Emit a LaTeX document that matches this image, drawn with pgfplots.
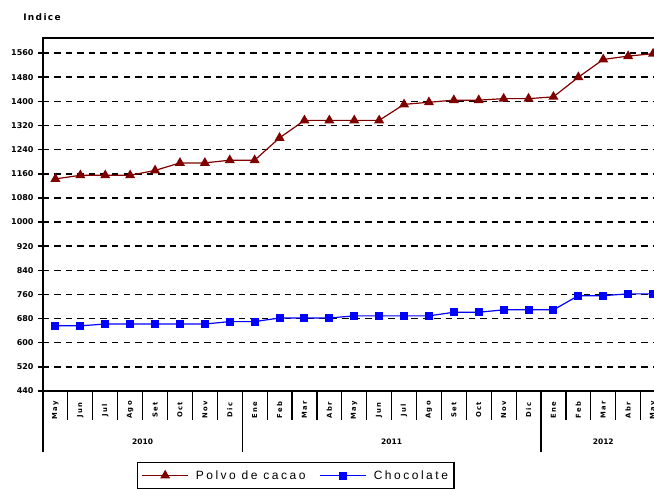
\documentclass[border=0pt]{standalone}
\usepackage{pgfplots}
\pgfplotsset{compat=1.18}
\usepackage{pgfplotstable}
\usepackage{fontspec}
\setmainfont{DejaVu Sans}
\newfontfamily\legfont{Liberation Sans}[LetterSpace=21]
\newfontfamily\monthfont{DejaVu Sans}[LetterSpace=20]
\newfontfamily\titfont{DejaVu Sans}[LetterSpace=15]

\definecolor{cacao}{RGB}{128,0,0}
\definecolor{choco}{RGB}{0,0,255}

% indices mensuales, may-2010 .. may-2012
\pgfplotstableread{
idx cacao choco
0  1143 656
1  1155 656
2  1155 662
3  1155 662
4  1171 662
5  1196 662
6  1196 662
7  1205 670
8  1205 670
9  1279 682
10 1337 682
11 1337 682
12 1337 689
13 1337 689
14 1390 689
15 1397 689
16 1404 701
17 1404 701
18 1409 709
19 1409 709
20 1415 709
21 1480 756
22 1539 756
23 1550 762
24 1558 762
}\datatable

\begin{document}
\begin{tikzpicture}[x=1pt,y=1pt]
\begin{axis}[
    at={(43pt,97pt)}, anchor=south west,
    scale only axis,
    width=622.5pt, height=353.3pt,
    xmin=-0.5, xmax=24.5,
    ymin=440, ymax=1611,
    clip=false,
    axis line style={line width=1.8pt},
    ytick={440,520,...,1560},
    ytick align=center, ytick pos=left,
    major tick length=10pt,
    y tick style={line width=1.5pt, black},
    ymajorgrids,
    grid style={black, line width=1.5pt, dash pattern=on 6.5pt off 5pt},
    scaled y ticks=false,
    /pgf/number format/1000 sep={},
    /pgf/number format/assume math mode=true,
    yticklabel style={font=\bfseries\fontsize{8}{8}\selectfont, anchor=east, xshift=-1pt},
    xtick={0,...,24},
    xticklabels={May,Jun,Jul,Ago,Set,Oct,Nov,Dic,Ene,Feb,Mar,Abr,May,Jun,Jul,Ago,Set,Oct,Nov,Dic,Ene,Feb,Mar,Abr,May},
    xtick style={draw=none}, xtick pos=bottom,
    x tick label style={font=\monthfont\bfseries\fontsize{6.8}{6.8}\selectfont, yshift=-19pt, rotate=90, anchor=center},
    legend columns=2,
    legend style={at={(0.151,-0.2006)}, anchor=north west,
        draw=black, line width=1.2pt,
        font=\legfont\fontsize{12}{13}\selectfont,
        inner xsep=4pt, inner ysep=6pt,
        /tikz/every odd column/.append style={column sep=5pt},
        /tikz/every even column/.append style={column sep=12pt}},
    legend image code/.code={\draw[mark repeat=2,mark phase=2] plot coordinates {(0pt,0pt) (23pt,0pt) (46pt,0pt)};},
]
\addplot[cacao, line width=1.2pt, mark=triangle*, mark size=4.6pt, mark options={solid}]
    table[x=idx, y=cacao] {\datatable};
\addlegendentry{Polvo de cacao}
\addplot[choco, line width=1.2pt, mark=square*, mark size=3.4pt, mark options={solid}]
    table[x=idx, y=choco] {\datatable};
\addlegendentry{Chocolate}

% separadores de meses y de años
\pgfplotsinvokeforeach{-0.5,0.5,...,24.5}{
    \draw[black, line width=1.2pt] (axis cs:#1,440) -- ++(0pt,-29pt);
}
\pgfplotsinvokeforeach{-0.5,7.5,19.5}{
    \draw[black, line width=1.2pt] (axis cs:#1,440) -- ++(0pt,-61pt);
}
\node[font=\bfseries\fontsize{7.5}{7.5}\selectfont] at (axis cs:3.5,440) [yshift=-50.7pt] {2010};
\node[font=\bfseries\fontsize{7.5}{7.5}\selectfont] at (axis cs:13.5,440) [yshift=-50.7pt] {2011};
\node[font=\bfseries\fontsize{7.5}{7.5}\selectfont] at (axis cs:22,440) [yshift=-50.7pt] {2012};
\end{axis}
\node[font=\titfont\bfseries\fontsize{9}{9}\selectfont] at (42,471.3) {Indice};
\pgfresetboundingbox
\useasboundingbox (0,0) rectangle (654,488);
\end{tikzpicture}
\end{document}
